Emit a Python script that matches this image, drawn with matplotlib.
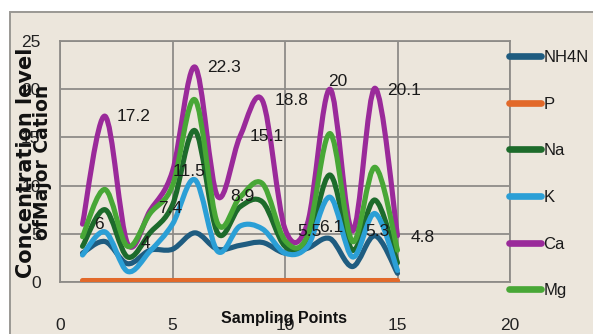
import matplotlib
matplotlib.use("Agg")
import matplotlib.pyplot as plt
from matplotlib.path import Path
from matplotlib.patches import PathPatch, Rectangle
from matplotlib.lines import Line2D
import numpy as np

# Sampling points and measured concentrations
sampling_points = list(range(1, 16))
nh4n = [3.0, 4.2, 1.9, 3.3, 3.4, 5.1, 3.4, 3.8, 4.1, 3.0, 3.5, 4.5, 1.6, 4.8, 0.9]
p = [0.15] * 15
na = [3.7, 7.5, 2.6, 5.1, 8.0, 15.7, 5.1, 7.8, 8.3, 3.7, 4.0, 11.1, 3.3, 8.5, 2.0]
k = [2.8, 5.2, 1.1, 3.2, 6.0, 10.6, 3.2, 5.8, 5.5, 3.0, 3.7, 8.8, 2.6, 7.1, 1.2]
ca = [6, 17.2, 4, 7.4, 11.5, 22.3, 8.9, 15.1, 18.8, 5.5, 6.1, 20, 5.3, 20.1, 4.8]
mg = [4.7, 9.6, 3.7, 7.1, 10.0, 18.9, 6.1, 8.8, 10.2, 4.3, 4.8, 15.4, 4.2, 11.9, 3.3]

series_names = ["NH4N", "P", "Na", "K", "Ca", "Mg"]
series_values = [nh4n, p, na, k, ca, mg]
series_colors = ["#1f5c80", "#e2692a", "#1d6b2b", "#2b9fd6", "#9a2a9a", "#48a736"]

x_ticks = [0, 5, 10, 15, 20]
y_ticks = [0, 5, 10, 15, 20, 25]

# horizontal offsets of the Ca value labels (data units)
label_dx = [0.75, 1.27, 0.8, 0.9, 0.75, 1.3, 1.1, 1.2, 1.3, 1.1, 1.05, 0.35, 1.1, 1.3, 1.1]
label_dy = [0, 0, 0, 0.2, 0, 0, 0, 0, 0, -0.3, -0.4, 0.8, -0.1, -0.2, -0.2]

SANS = ["Liberation Sans", "DejaVu Sans"]
BEIGE = "#ece6dc"
GRID = "#8e8c88"


def smooth_path(xs, ys):
    """Cubic Bezier path through the points (Catmull-Rom style smoothing)."""
    pts = np.column_stack([xs, ys]).astype(float)
    n = len(pts)
    verts = [pts[0]]
    codes = [Path.MOVETO]
    for i in range(n - 1):
        p0 = pts[i - 1] if i > 0 else pts[i]
        p1 = pts[i]
        p2 = pts[i + 1]
        p3 = pts[i + 2] if i + 2 < n else pts[i + 1]
        c1 = p1 + (p2 - p0) / 6.0
        c2 = p2 - (p3 - p1) / 6.0
        verts += [c1, c2, p2]
        codes += [Path.CURVE4] * 3
    return Path(verts, codes)


fig = plt.figure(figsize=(5.93, 3.34), dpi=100)
fig.patch.set_facecolor("white")
frame = Rectangle((10 / 593, -0.01), 1.0, 1 - 12 / 334 + 0.01,
                  transform=fig.transFigure, facecolor=BEIGE,
                  edgecolor="#9a9894", linewidth=1.4, zorder=-10)
fig.patches.append(frame)

ax = fig.add_axes([60 / 593, 1 - 282 / 334, 450 / 593, 241 / 334])
ax.set_zorder(2)
ax.set_facecolor("none")
ax.set_xlim(0, 20)
ax.set_ylim(0, 25)
ax.set_xticks(x_ticks)
ax.set_yticks(y_ticks)
ax.tick_params(length=0, labelsize=12.5, colors="#222222")
ax.tick_params(axis="x", pad=26)
ax.tick_params(axis="y", pad=14)
for lab in ax.get_xticklabels() + ax.get_yticklabels():
    lab.set_fontfamily(SANS)
ax.grid(True, color=GRID, linewidth=1.3)
ax.set_axisbelow(True)
for s in ax.spines.values():
    s.set_color(GRID)
    s.set_linewidth(1.3)

handles = []
for name, vals, col in zip(series_names, series_values, series_colors):
    path = smooth_path(sampling_points, vals)
    ax.add_patch(PathPatch(path, fill=False, edgecolor=col, linewidth=3.7,
                           capstyle="round", joinstyle="round", zorder=3))
    handles.append(Line2D([], [], color=col, linewidth=4.8, solid_capstyle="round"))

for xv, yv, dx, dy in zip(sampling_points, ca, label_dx, label_dy):
    ax.text(xv + dx, yv + dy, f"{yv:g}", ha="center", va="center",
            fontsize=12.5, family=SANS, color="#1a1a1a", zorder=5)

leg = fig.legend(handles, series_names, loc="upper left",
                 bbox_to_anchor=(509 / 593, 1 - 50 / 334),
                 frameon=False, prop={"family": SANS, "size": 12},
                 handlelength=1.9, handletextpad=0.15, labelspacing=1.9,
                 borderpad=0, borderaxespad=0)
leg.set_zorder(3)
for t in leg.get_texts():
    t.set_color("#1a1a1a")

fig.text(284 / 593, 1 - 319 / 334, "Sampling Points", ha="center", va="center",
         fontsize=11.5, fontweight="bold", family=SANS, color="#111111", zorder=4)
fig.text(26 / 593, 1 - 163 / 334, "Concentration level", ha="center", va="center",
         rotation=90, fontsize=15, fontweight="bold", color="#111111", zorder=4)
fig.text(42 / 593, 1 - 162 / 334, "ofMajor Cation", ha="center", va="center",
         rotation=90, fontsize=13.5, fontweight="bold", color="#111111", zorder=4)

fig.savefig("out.png", dpi=100, facecolor=fig.get_facecolor())
